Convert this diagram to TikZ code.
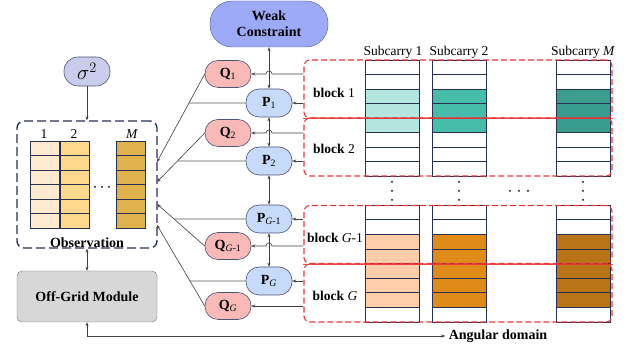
\documentclass[tikz,border=0pt]{standalone}
\usepackage{fontspec}
\setmainfont{Liberation Serif}
\usetikzlibrary{arrows.meta,positioning,calc}

\definecolor{wcfill}{HTML}{9DAAF7}
\definecolor{wcline}{HTML}{4A58A8}
\definecolor{sgfill}{HTML}{C9CCEB}
\definecolor{qfill}{HTML}{F8B9B7}
\definecolor{pfill}{HTML}{C6DAF9}
\definecolor{ogfill}{HTML}{D7D7D7}
\definecolor{navy}{HTML}{283052}
\definecolor{edge}{HTML}{4C5478}
\definecolor{blkred}{HTML}{EA3539}
\definecolor{obsA}{HTML}{FFE9CF}
\definecolor{obsB}{HTML}{FFD78D}
\definecolor{obsM}{HTML}{E0B24B}
\definecolor{upA}{HTML}{B2E6DF}
\definecolor{upB}{HTML}{46BDAB}
\definecolor{upM}{HTML}{3A9C8C}
\definecolor{loA}{HTML}{FFCDA9}
\definecolor{loB}{HTML}{E08B17}
\definecolor{loM}{HTML}{B97515}

\newcommand{\bsub}[2]{\textbf{#1}\textsubscript{#2}}

\begin{document}
\begin{tikzpicture}[x=1pt, y=-1pt,
  txt/.style={font=\fontsize{13.5}{16}\selectfont, inner sep=1pt},
  btxt/.style={font=\fontsize{14}{16}\selectfont\bfseries},
  pill/.style={draw=edge, rounded corners=13pt, minimum width=46pt,
    minimum height=27pt, inner sep=0pt, line width=0.6pt,
    font=\fontsize{14}{16}\selectfont},
  qnode/.style={pill, fill=qfill},
  pnode/.style={pill, fill=pfill, minimum height=28pt},
  blk/.style={draw=blkred, dash pattern=on 6pt off 3pt, line width=1.1pt,
    rounded corners=6pt, minimum width=308pt, minimum height=58pt, inner sep=0pt},
  cell/.style={draw=navy, line width=0.7pt},
  arr/.style={-{Stealth[length=4pt,width=3pt]}, draw=black!75, line width=0.6pt},
  dbl/.style={{Stealth[length=4pt,width=3pt]}-{Stealth[length=4pt,width=3pt]},
    draw=black!75, line width=0.6pt},
  tie/.style={draw=black!65, line width=0.6pt}]
\useasboundingbox (0,0) rectangle (633,352);

% left side
\node[pill, fill=sgfill, minimum height=29pt, rounded corners=14pt,
  font=\fontsize{21}{22}\selectfont] (sg) at (87,71.5) {$\sigma^{2}$};
\node[draw=navy, dash pattern=on 9pt off 4pt, line width=1.3pt, rounded corners=7pt,
  minimum width=140pt, minimum height=127pt] (obs) at (87,184.5) {};
\foreach \x/\c in {30/obsA,60/obsB,116/obsM}
  \foreach \r in {0,...,5}
    \draw[cell, fill=\c] (\x,141+14.5*\r) rectangle ++(29.5,14.5);
\foreach \x/\t [count=\i] in {44/1,74/2,132/\textit{M}}
  \node[txt] (col\i) at (\x,134) {\t};
\foreach \x in {95,102,109}
  \fill (\x,187) circle (1pt);
\node[btxt] (obslbl) at (87,243) {Observation};
\node[draw=edge!80, fill=ogfill, rounded corners=5pt, minimum width=140pt,
  minimum height=51pt, btxt] (og) at (87,296.5) {Off-Grid Module};

% middle column
\node[draw=wcline, fill=wcfill, rounded corners=22pt, minimum width=118pt,
  minimum height=46pt, align=center, btxt] (wc) at (269,24) {Weak\\Constraint};
\node[qnode] (q1) at (228,74) {\bsub{Q}{1}};
\node[pnode] (p1) at (269,103) {\bsub{P}{1}};
\node[qnode] (q2) at (228,133) {\bsub{Q}{2}};
\node[pnode] (p2) at (269,161) {\bsub{P}{2}};
\node[pnode] (pgm) at (269,219) {\bsub{P}{\textit{G}-1}};
\node[qnode] (qgm) at (228,246) {\bsub{Q}{\textit{G}-1}};
\node[pnode] (pg) at (269,281) {\bsub{P}{\textit{G}}};
\node[qnode] (qg) at (228,306) {\bsub{Q}{\textit{G}}};

% subcarrier columns
\foreach \x/\c in {365/upA,432/upB,556/upM}{
  \fill[\c] (\x,89) rectangle ++(54,43.5);
  \foreach \r in {0,...,7}
    \draw[cell] (\x,60+14.5*\r) rectangle ++(54,14.5);
}
\foreach \x/\c in {365/loA,432/loB,556/loM}{
  \fill[\c] (\x,234.25) rectangle ++(54,73.125);
  \foreach \r in {0,...,7}
    \draw[cell] (\x,205+14.625*\r) rectangle ++(54,14.625);
}
\node[txt] (sc1) at (393,52) {Subcarry 1};
\node[txt] (sc2) at (459,52) {Subcarry 2};
\node[txt] (scm) at (583,52) {Subcarry \textit{M}};
\foreach \x in {392,459,583}
  \foreach \y in {182,191,200}
    \fill (\x,\y) circle (1pt);
\foreach \x in {510,519,528}
  \fill (\x,191) circle (1pt);

% blocks
\node[blk] (blk1) at (458,89) {};
\node[blk] (blk2) at (458,147) {};
\node[blk] (blkgm) at (458,234.5) {};
\node[blk] (blkg) at (458,293) {};
\draw[blkred, line width=1pt, opacity=0.85] (blk1.south west) -- (blk1.south east);
\draw[blkred, line width=1pt, opacity=0.85] (blkgm.south west) -- (blkgm.south east);
\node[txt] (lb1) at (334,93) {\textbf{block} 1};
\node[txt] (lb2) at (334,149) {\textbf{block} 2};
\node[txt] (lbgm) at (335,238) {\textbf{block} \textit{G}-1};
\node[txt] (lbg) at (335,296) {\textbf{block} \textit{G}};

% connectors
\draw[dbl] (wc) -- (p1);
\draw[dbl] (p1) -- (p2);
\draw[dbl] (p2) -- (pgm);
\draw[dbl] (pgm) -- (pg);
\draw[arr] (sg) -- (obs);
\draw[dbl] (obs) -- (og);
\node[btxt] (ang) at (498,336) {Angular domain};
\draw[dbl] (og) |- (ang);

\foreach \b/\p/\q in {blk1/p1/q1, blk2/p2/q2, blkgm/pgm/qgm}{
  \draw[arr] (\b.west |- \p) -- (\p);
  \draw[arr] (\b.west |- \q) -- ($(wc |- \q)+(3,0)$)
    arc[start angle=0, end angle=180, radius=3pt] -- (\q);
}
\draw[arr] (blkg.west |- pg) -- (pg);
\draw[arr] (blkg.west |- qg) -- (qg);

\coordinate (in1) at (157,162);
\coordinate (in2) at (157,182);
\coordinate (in3) at (157,204);
\coordinate (in4) at (157,225);
\foreach \q/\p/\i in {q1/p1/in1, q2/p2/in2, qgm/pgm/in3, qg/pg/in4}{
  \draw[arr] (\q.west) -- (\i);
  \draw[tie] (\p) -- (intersection cs: first line={(\q.west)--(\i)},
    second line={(\p)--(\p -| \i)});
}
\end{tikzpicture}
\end{document}
